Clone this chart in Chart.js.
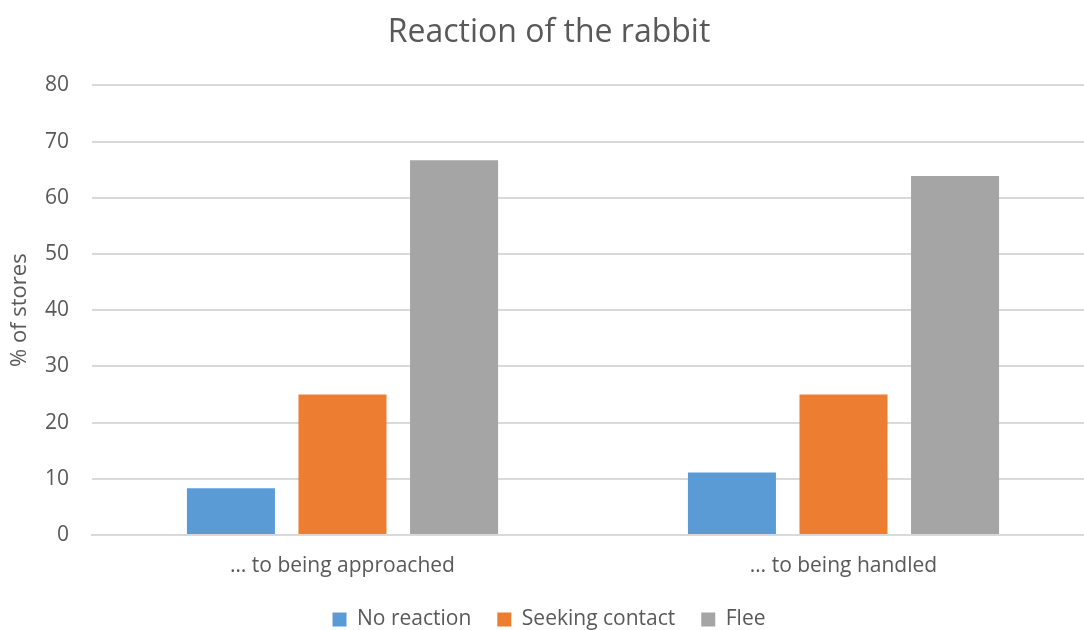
<!DOCTYPE html>
<html>
<head>
  <title>Reaction of the rabbit</title>
  <script src="https://cdn.jsdelivr.net/npm/chart.js"></script>
  <style>
    html, body { margin: 0; padding: 0; background: #fff; overflow: hidden; }
    /* the plot runs a little past the right edge of the page */
    #wrap { width: 1094px; height: 630px; }
  </style>
</head>
<body>
  <div id="wrap"><canvas id="rabbitChart"></canvas></div>
  <script>
    const categories = ['\u2026 to being approached', '\u2026 to being handled'];
    const noReaction = [8.33, 11.11];
    const seekingContact = [25, 25];
    const flee = [66.67, 63.89];

    const textColor = '#595959';
    const font = 'Open Sans';

    const ctx = document.getElementById('rabbitChart').getContext('2d');
    new Chart(ctx, {
      type: 'bar',
      data: {
        labels: categories,
        datasets: [
          { label: 'No reaction', data: noReaction, backgroundColor: '#5b9bd5' },
          { label: 'Seeking contact', data: seekingContact, backgroundColor: '#ed7d31' },
          { label: 'Flee', data: flee, backgroundColor: '#a5a5a5' }
        ]
      },
      options: {
        responsive: true,
        maintainAspectRatio: false,
        animation: false,
        categoryPercentage: 0.668,
        barPercentage: 0.789,
        layout: { padding: { top: 6, right: 0, bottom: -10, left: 4 } },
        plugins: {
          title: {
            display: true,
            text: 'Reaction of the rabbit',
            color: textColor,
            font: { family: font, size: 32, weight: 'normal' },
            padding: { top: 8, bottom: 33 }
          },
          legend: {
            position: 'bottom',
            labels: {
              color: textColor,
              font: { family: font, size: 21 },
              boxWidth: 14,
              boxHeight: 14,
              padding: 26
            }
          },
          tooltip: { enabled: false }
        },
        scales: {
          x: {
            grid: { display: false, drawTicks: false },
            border: { color: '#d9d9d9', width: 2 },
            ticks: { color: textColor, font: { family: font, size: 21 }, padding: 18 },
            afterFit: (scale) => { scale.height = 48; }
          },
          y: {
            min: 0,
            max: 80,
            ticks: { stepSize: 10, color: textColor, font: { family: font, size: 21 }, padding: 23 },
            grid: { color: '#d9d9d9', lineWidth: 2, drawTicks: false },
            border: { display: false },
            title: {
              display: true,
              text: '% of stores',
              color: textColor,
              font: { family: font, size: 22 },
              padding: { top: 3, bottom: 12 }
            },
            afterFit: (scale) => { scale.width = 88; }
          }
        }
      }
    });
  </script>
</body>
</html>
